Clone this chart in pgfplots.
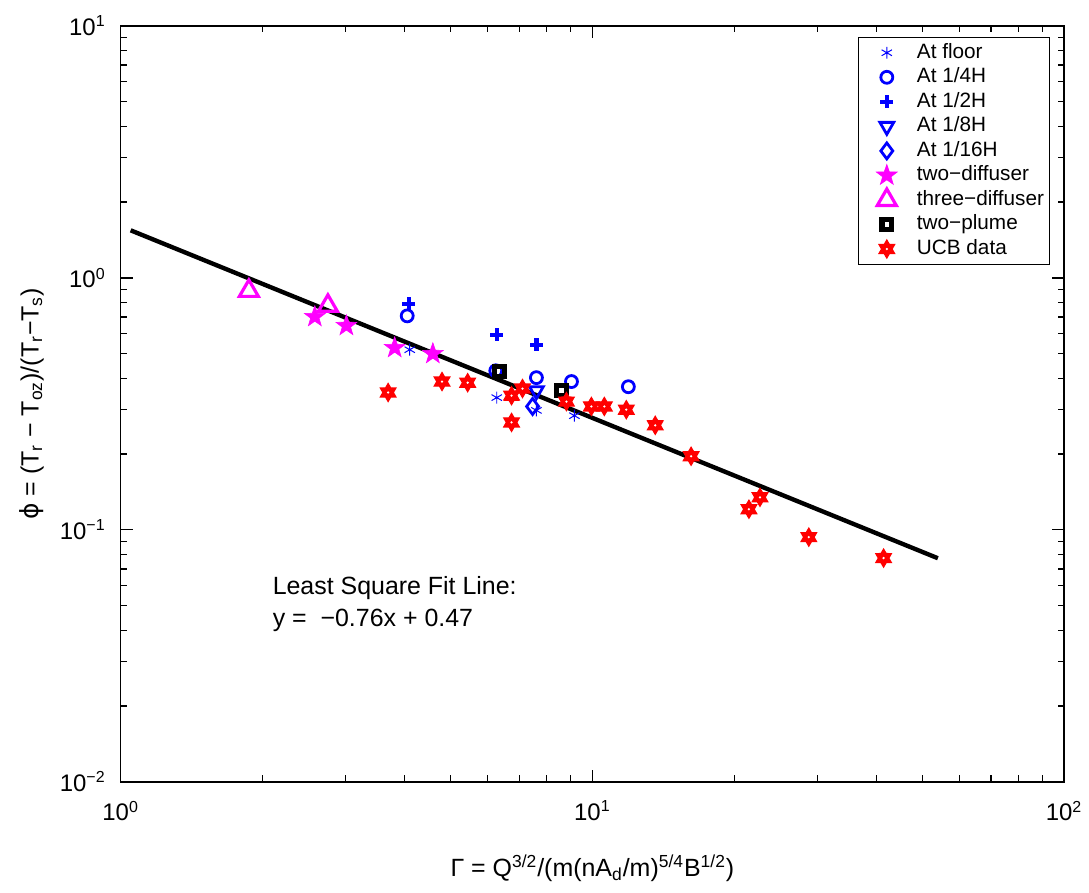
\documentclass[border=0pt]{standalone}
\usepackage{fontspec}
\setmainfont{Liberation Sans}
\newfontfamily\dejavu{DejaVu Sans}
\usepackage{pgfplots}
\pgfplotsset{compat=1.18}
\usetikzlibrary{plotmarks}

% filled five-pointed star (MATLAB pentagram look)
\pgfdeclareplotmark{pentastar}{%
  \pgfpathmoveto{\pgfpointpolar{90}{\pgfplotmarksize}}%
  \pgfpathlineto{\pgfpointpolar{126}{0.40\pgfplotmarksize}}%
  \pgfpathlineto{\pgfpointpolar{162}{\pgfplotmarksize}}%
  \pgfpathlineto{\pgfpointpolar{198}{0.40\pgfplotmarksize}}%
  \pgfpathlineto{\pgfpointpolar{234}{\pgfplotmarksize}}%
  \pgfpathlineto{\pgfpointpolar{270}{0.40\pgfplotmarksize}}%
  \pgfpathlineto{\pgfpointpolar{306}{\pgfplotmarksize}}%
  \pgfpathlineto{\pgfpointpolar{342}{0.40\pgfplotmarksize}}%
  \pgfpathlineto{\pgfpointpolar{18}{\pgfplotmarksize}}%
  \pgfpathlineto{\pgfpointpolar{54}{0.40\pgfplotmarksize}}%
  \pgfpathclose
  \pgfusepathqfillstroke}

% six-pointed star with a small hole (MATLAB hexagram, thick)
\pgfdeclareplotmark{hexastar}{%
  \pgfpathmoveto{\pgfpointpolar{90}{\pgfplotmarksize}}%
  \pgfpathlineto{\pgfpointpolar{120}{0.58\pgfplotmarksize}}%
  \pgfpathlineto{\pgfpointpolar{150}{\pgfplotmarksize}}%
  \pgfpathlineto{\pgfpointpolar{180}{0.58\pgfplotmarksize}}%
  \pgfpathlineto{\pgfpointpolar{210}{\pgfplotmarksize}}%
  \pgfpathlineto{\pgfpointpolar{240}{0.58\pgfplotmarksize}}%
  \pgfpathlineto{\pgfpointpolar{270}{\pgfplotmarksize}}%
  \pgfpathlineto{\pgfpointpolar{300}{0.58\pgfplotmarksize}}%
  \pgfpathlineto{\pgfpointpolar{330}{\pgfplotmarksize}}%
  \pgfpathlineto{\pgfpointpolar{0}{0.58\pgfplotmarksize}}%
  \pgfpathlineto{\pgfpointpolar{30}{\pgfplotmarksize}}%
  \pgfpathlineto{\pgfpointpolar{60}{0.58\pgfplotmarksize}}%
  \pgfpathclose
  \pgfusepathqfillstroke
  \pgfscope
  \pgfsetfillcolor{white}%
  \pgfpathcircle{\pgfpointorigin}{0.14\pgfplotmarksize}%
  \pgfusepathqfill
  \endpgfscope}

\definecolor{mblue}{rgb}{0,0,1}
\definecolor{mmag}{rgb}{1,0,1}
\definecolor{mred}{rgb}{1,0,0}

\begin{document}
\begin{tikzpicture}
\begin{axis}[
  scale only axis,
  width=473pt, height=379pt,
  xmode=log, ymode=log,
  xmin=1, xmax=100, ymin=0.01, ymax=10,
  xtick={1,10,100},
  xticklabels={10\textsuperscript{0},10\textsuperscript{1},10\textsuperscript{2}},
  ytick={0.01,0.1,1,10},
  yticklabels={10\textsuperscript{−2},10\textsuperscript{−1},10\textsuperscript{0},10\textsuperscript{1}},
  tick align=inside,
  major tick length=6pt, minor tick length=3.3pt,
  every tick/.style={black, line width=0.6pt},
  axis line style={line width=0.8pt},
  ticklabel style={font=\fontsize{12}{14}\selectfont},
  xticklabel style={yshift=-6pt},
  yticklabel style={xshift=-4pt},
  xlabel={Γ = Q\textsuperscript{3/2}/(m(nA\textsubscript{d}/m)\textsuperscript{5/4}B\textsuperscript{1/2})},
  ylabel={{\dejavu ϕ} = (T\textsubscript{r} − T\textsubscript{oz})/(T\textsubscript{r}−T\textsubscript{s})},
  label style={font=\fontsize{12.5}{15}\selectfont},
  xlabel style={at={(axis description cs:0.5,-0.087)}, anchor=north},
  ylabel style={at={(axis description cs:-0.074,0.5)}, anchor=south},
  legend cell align=left,
  every axis plot post/.append style={
    legend image code/.code={%
      \path (0pt,0pt) (24pt,0pt);
      \draw[##1] plot coordinates {(11.5pt,0pt)};}},
  legend style={at={(1,1)}, anchor=north east, xshift=-7pt, yshift=-5.5pt,
    draw=black, line width=0.6pt, inner xsep=1.5pt, inner ysep=1.5pt,
    font=\fontsize{10.4}{12}\selectfont, row sep=0pt,
    nodes={inner sep=1.3pt, text height=7.5pt, text depth=2.2pt}},
]
\addplot[only marks, mblue, mark=asterisk, mark size=3pt, line width=0.5pt]
  coordinates {(4.10,0.519) (6.27,0.335) (7.61,0.298) (9.16,0.284)};
\addlegendentry{At floor}
\addplot[only marks, mblue, mark=o, mark size=3pt, line width=1.4pt]
  coordinates {(4.05,0.707) (6.24,0.428) (7.61,0.402) (9.03,0.388) (11.92,0.370)};
\addlegendentry{At 1/4H}
\addplot[only marks, mblue, mark=+, mark size=3.2pt, line width=2.2pt]
  coordinates {(4.08,0.789) (6.27,0.595) (7.61,0.543)};
\addlegendentry{At 1/2H}
\addplot[only marks, mblue, mark=triangle, mark size=4pt, line width=1.4pt, mark options={rotate=180}]
  coordinates {(7.61,0.357)};
\addlegendentry{At 1/8H}
\addplot[only marks, mblue, mark=diamond, mark size=4pt, line width=1.4pt]
  coordinates {(7.47,0.309)};
\addlegendentry{At 1/16H}
\addplot[only marks, mmag, fill=mmag, mark=pentastar, mark size=5.5pt, line width=0.3pt]
  coordinates {(2.58,0.701) (3.01,0.646) (3.81,0.528) (4.59,0.500)};
\addlegendentry{two−diffuser}
\addplot[only marks, mmag, mark=triangle, mark size=5.5pt, line width=1.6pt]
  coordinates {(1.87,0.888) (2.75,0.775)};
\addlegendentry{three−diffuser}
\addplot[only marks, black, mark=square, mark size=2.4pt, line width=2.6pt]
  coordinates {(6.36,0.425) (8.60,0.357)};
\addlegendentry{two−plume}
\addplot[only marks, mred, fill=mred, mark=hexastar, mark size=4.5pt, line width=0.6pt]
  coordinates {(3.69,0.351) (4.80,0.388) (5.44,0.384) (6.74,0.341) (6.74,0.267)
    (7.11,0.364) (8.81,0.323) (9.95,0.309) (10.6,0.309) (11.80,0.300)
    (13.59,0.260) (16.19,0.196) (22.66,0.1347) (21.47,0.1208) (28.76,0.0936)
    (41.43,0.0773)};
\addlegendentry{UCB data}
% least square fit line
\addplot[black, line width=2.2pt, forget plot] coordinates {(1.05,1.545) (54,0.0772)};
\node[anchor=north west, align=left, font=\fontsize{12.5}{16.5}\selectfont]
  at (axis cs:2.03,0.070) {Least Square Fit Line:\\y = \ −0.76x + 0.47};
\end{axis}
\path ([shift={(-60.5pt,-55.5pt)}]current axis.south west)
  rectangle ([shift={(11pt,13pt)}]current axis.north east);
\end{tikzpicture}
\end{document}
